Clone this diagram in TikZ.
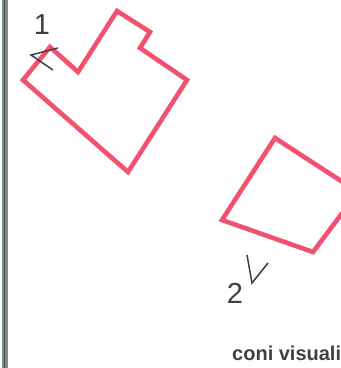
\documentclass[tikz,border=0pt]{standalone}
\usepackage{fontspec}
\setmainfont{Liberation Sans}
\definecolor{shapered}{HTML}{F25270}
\definecolor{inkgray}{HTML}{3A4244}
\definecolor{bargray}{HTML}{7D8C8C}
\begin{document}
\begin{tikzpicture}[x=1pt,y=-1pt,
  outline/.style={draw=shapered,line width=4.6pt,line join=miter},
  tickmark/.style={draw=inkgray,line width=1.5pt},
  numlabel/.style={text=inkgray,font=\fontsize{29}{31}\selectfont,inner sep=0pt,anchor=base},
  caption/.style={text=inkgray,font=\bfseries\fontsize{20}{24}\selectfont,inner sep=0pt,anchor=base west}]
\useasboundingbox (0,0) rectangle (341,368);
\clip (0,0) rectangle (341,368);
\fill[white] (0,0) rectangle (341,368);
% left bar
\fill[bargray] (1.5,0) rectangle (8.5,368);
\draw[gray!60!black,line width=1.2pt] (4.5,0) -- (4.5,368);
% shape 1
\draw[outline] (117,11) -- (150,32) -- (140,48) -- (187,80) -- (128,172) -- (23,80) -- (50,47) -- (78,72) -- cycle;
% shape 2
\draw[outline] (275,138) -- (358,192) -- (313,252) -- (222,220) -- cycle;
% marks
\coordinate (m1a) at (58,48); \coordinate (m1b) at (31,55); \coordinate (m1c) at (53,70);
\draw[tickmark] (m1a) -- (m1b) -- (m1c);
\coordinate (m2a) at (247,255); \coordinate (m2b) at (252,283); \coordinate (m2c) at (268,263);
\draw[tickmark] (m2a) -- (m2b) -- (m2c);
% labels
\node[numlabel] (one) at (42,34) {1};
\node[numlabel] (two) at (235,303) {2};
\node[caption] (cap) at (232,360) {coni visuali};
\end{tikzpicture}
\end{document}
